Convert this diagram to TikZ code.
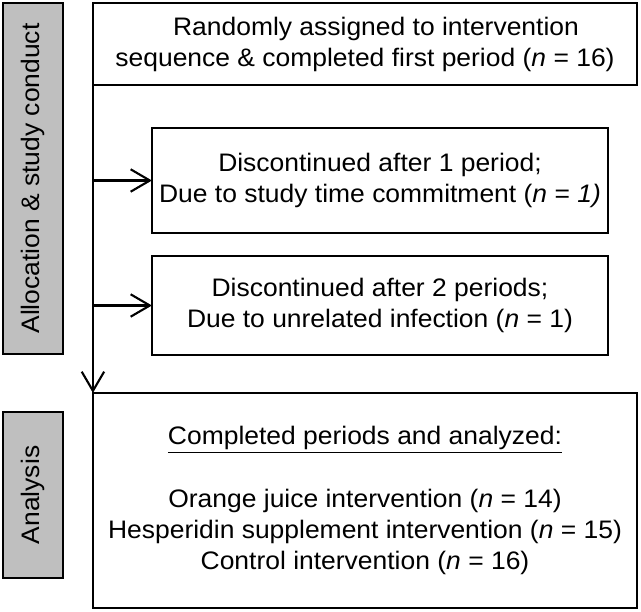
\documentclass[tikz,border=0pt]{standalone}
\usepackage{fontspec}
\setmainfont{Liberation Sans}[FakeStretch=1.045]
\usetikzlibrary{arrows.meta}

\tikzset{
  box/.style={draw, line width=1.9pt, align=center, inner sep=0pt, outer sep=0pt,
    font=\fontsize{18}{22}\selectfont},
  sidebox/.style={box, fill=black!25, rotate=90},
  flow/.style={line width=1.7pt, -{Straight Barb[length=0.48cm, width=0.56cm, line width=1.5pt]}}
}

\begin{document}
\begin{tikzpicture}[x=0.025cm, y=-0.025cm]
  \useasboundingbox (0,0) rectangle (641,612);
  % side labels
  \node[sidebox, minimum width=8.775cm, minimum height=1.5cm] (alloc) at (33, 178.5) {Allocation \& study conduct};
  \node[sidebox, minimum width=4.15cm, minimum height=1.5cm] (anal) at (33, 495) {Analysis};
  % main boxes
  \node[box, minimum width=13.6cm, minimum height=2.05cm] (rand) at (365, 44)
    {\hspace*{0.55cm}Randomly assigned to intervention\\sequence \& completed first period (\textit{n} = 16)};
  \node[box, minimum width=11.4cm, minimum height=2.625cm] (disc1) at (380, 180.5)
    {Discontinued after 1 period;\\Due to study time commitment (\textit{n} = \textit{1)}};
  \node[box, minimum width=11.4cm, minimum height=2.475cm] (disc2) at (380, 305.5)
    {Discontinued after 2 periods;\\Due to unrelated infection (\textit{n} = 1)};
  \node[box, minimum width=13.6cm, minimum height=5.375cm] (done) at (365, 500.5)
    {\underline{Completed periods and analyzed:}\\[0.8cm]
     Orange juice intervention (\textit{n} = 14)\\
     Hesperidin supplement intervention (\textit{n} = 15)\\
     Control intervention (\textit{n} = 16)};
  % connectors
  \draw[flow] (rand.south west) -- (done.north west);
  \draw[flow] (rand.south west |- disc1.west) -- (disc1.west);
  \draw[flow] (rand.south west |- disc2.west) -- (disc2.west);
\end{tikzpicture}
\end{document}
